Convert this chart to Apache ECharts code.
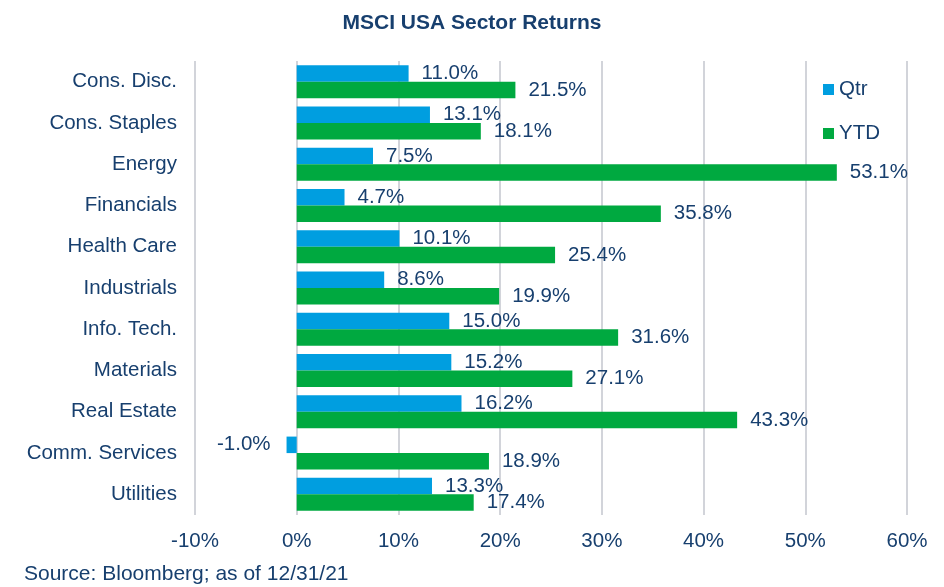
<!DOCTYPE html>
<html>
<head>
<meta charset="utf-8">
<script src="https://cdn.jsdelivr.net/npm/echarts@6/dist/echarts.min.js"></script>
<style>
  html, body { margin: 0; padding: 0; background: #fff; }
  #chart { width: 944px; height: 587px; }
</style>
</head>
<body>
<div id="chart"></div>
<script>
// sector returns, Q4 2021
const sectors = ['Cons. Disc.', 'Cons. Staples', 'Energy', 'Financials', 'Health Care',
  'Industrials', 'Info. Tech.', 'Materials', 'Real Estate', 'Comm. Services', 'Utilities'];
const qtrReturns = [11.0, 13.1, 7.5, 4.7, 10.1, 8.6, 15.0, 15.2, 16.2, -1.0, 13.3];
const ytdReturns = [21.5, 18.1, 53.1, 35.8, 25.4, 19.9, 31.6, 27.1, 43.3, 18.9, 17.4];
const tickLabels = ['-10%', '0%', '10%', '20%', '30%', '40%', '50%', '60%'];

const navy = '#173F6E';
const font = 'Liberation Sans, Arial, sans-serif';
const fs = 20.5;

const chart = echarts.init(document.getElementById('chart'));

// negative bars get their label on the left
function withLabels(values) {
  return values.map(v => v < 0
    ? { value: v, label: { position: 'left', distance: 16 } }
    : v);
}

const labelStyle = {
  show: true,
  position: 'right',
  distance: 13,
  color: navy,
  fontSize: fs,
  fontFamily: font,
  formatter: p => p.value.toFixed(1) + '%'
};

chart.setOption({
  animation: false,
  title: {
    text: 'MSCI USA Sector Returns',
    left: 'center',
    top: 8,
    textStyle: { color: navy, fontSize: 21, fontWeight: 'bold', fontFamily: font }
  },
  graphic: [{
    type: 'text',
    left: 24,
    top: 564,
    style: { text: 'Source: Bloomberg; as of 12/31/21', fill: navy, fontSize: 21, fontFamily: font }
  }],
  legend: {
    orient: 'vertical',
    left: 818,
    top: 74,
    itemWidth: 11,
    itemHeight: 11,
    itemGap: 23,
    icon: 'rect',
    textStyle: { color: navy, fontSize: fs, fontFamily: font },
    data: ['Qtr', 'YTD']
  },
  grid: { left: 195, right: 37, top: 61, bottom: 72 },
  xAxis: {
    type: 'value',
    min: -10,
    max: 60,
    interval: 10,
    axisLine: { show: false },
    axisTick: { show: false },
    splitLine: { lineStyle: { color: '#C3C6CE', width: 1.5 } },
    axisLabel: {
      color: navy,
      fontSize: fs,
      fontFamily: font,
      margin: 16,
      formatter: v => tickLabels[Math.round((v + 10) / 10)]
    }
  },
  yAxis: {
    type: 'category',
    inverse: true,
    data: sectors,
    axisLine: { show: false },
    axisTick: { show: false },
    axisLabel: { color: navy, fontSize: fs, fontFamily: font, margin: 18 }
  },
  series: [
    {
      name: 'Qtr',
      type: 'bar',
      data: withLabels(qtrReturns),
      itemStyle: { color: '#009EE0' },
      barGap: '0%',
      barCategoryGap: '20%',
      label: labelStyle
    },
    {
      name: 'YTD',
      type: 'bar',
      data: withLabels(ytdReturns),
      itemStyle: { color: '#00A940' },
      barGap: '0%',
      barCategoryGap: '20%',
      label: labelStyle
    }
  ]
});
</script>
</body>
</html>
